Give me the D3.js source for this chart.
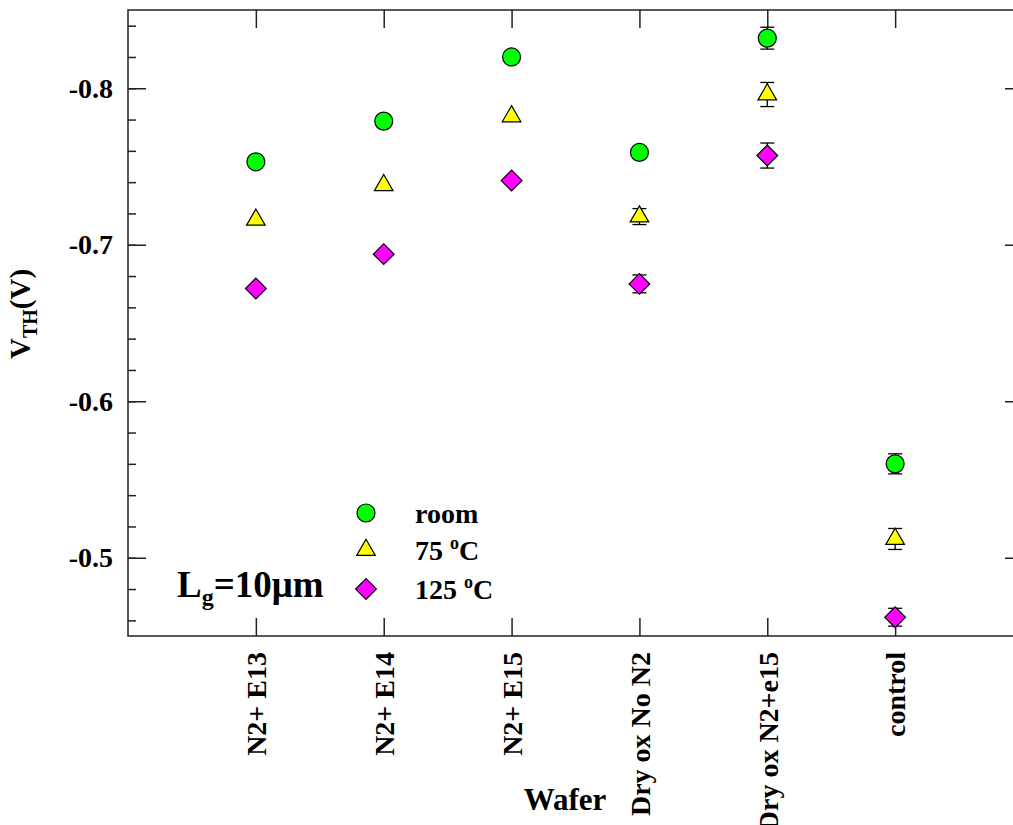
<!DOCTYPE html>
<html>
<head>
<meta charset="utf-8">
<script src="https://cdn.jsdelivr.net/npm/d3@7"></script>
<style>
  body { margin: 0; background: #fff; }
  svg { display: block; }
  text { font-family: "Liberation Serif", "Times New Roman", serif; font-weight: bold; fill: #000; }
</style>
</head>
<body>
<div id="chart"></div>
<script>
const width = 1013;
const height = 825;

// data
const wafers = ["N2+ E13", "N2+ E14", "N2+ E15", "Dry ox No N2", "Dry ox N2+e15", "control"];
const roomVals = [-0.753, -0.779, -0.820, -0.759, -0.832, -0.560];
const roomErr = [0, 0, 0, 0, 0.007, 0.0064];
const t75Vals = [-0.716, -0.738, -0.782, -0.718, -0.796, -0.512];
const t75Err = [0, 0, 0, 0.0051, 0.0077, 0.0067];
const t125Vals = [-0.672, -0.694, -0.741, -0.675, -0.757, -0.462];
const t125Err = [0, 0, 0, 0.0057, 0.008, 0.0057];
const yMajor = [-0.8, -0.7, -0.6, -0.5];
const yMinor = d3.range(-0.84, -0.449, 0.02);

const plotLeft = 128, plotRight = 1023, plotTop = 10, plotBottom = 636;

const x = d3.scaleLinear().domain([0, 7]).range([plotLeft, plotRight]);
const y = d3.scaleLinear().domain([-0.45, -0.85]).range([plotBottom, plotTop]);

const svg = d3.select("#chart").append("svg")
    .attr("width", width)
    .attr("height", height);

// frame
svg.append("rect")
    .attr("x", plotLeft).attr("y", plotTop)
    .attr("width", plotRight - plotLeft).attr("height", plotBottom - plotTop)
    .attr("fill", "none").attr("stroke", "#222").attr("stroke-width", 1.5);

function styleAxis(g) {
    g.select(".domain").remove();
    g.selectAll(".tick line").attr("stroke", "#222").attr("stroke-width", 1.5);
    g.selectAll(".tick text").style("font-size", "28px").attr("fill", "#000").attr("font-family", null);
}

// y axes
svg.append("g").attr("transform", `translate(${plotLeft},0)`)
    .call(d3.axisLeft(y).tickValues(yMajor).tickSize(-18).tickPadding(15).tickFormat(d => d.toFixed(1)))
    .call(styleAxis);

svg.append("g").attr("transform", `translate(${plotLeft},0)`)
    .call(d3.axisLeft(y).tickValues(yMinor).tickSize(-8).tickFormat(""))
    .call(styleAxis);

svg.append("g").attr("transform", `translate(${plotRight},0)`)
    .call(d3.axisRight(y).tickValues(yMajor).tickSize(-18).tickFormat(""))
    .call(styleAxis);

svg.append("g").attr("transform", `translate(${plotRight},0)`)
    .call(d3.axisRight(y).tickValues(yMinor).tickSize(-8).tickFormat(""))
    .call(styleAxis);

// x axes
const xTicks = wafers.map((d, i) => i + 1);

svg.append("g").attr("transform", `translate(0,${plotBottom})`)
    .call(d3.axisBottom(x).tickValues(xTicks).tickSize(-18).tickFormat(i => wafers[i - 1]))
    .call(styleAxis)
    .call(g => g.selectAll(".tick text")
        .attr("transform", "rotate(-90)")
        .attr("x", -16).attr("y", 0).attr("dy", "0.35em")
        .attr("text-anchor", "end"));

svg.append("g").attr("transform", `translate(0,${plotTop})`)
    .call(d3.axisTop(x).tickValues(xTicks).tickSize(-18).tickFormat(""))
    .call(styleAxis);

// axis titles
const yTitle = svg.append("text")
    .attr("transform", "translate(30,314) rotate(-90)")
    .attr("text-anchor", "middle")
    .style("font-size", "29px");
yTitle.append("tspan").text("V");
yTitle.append("tspan").attr("dy", 7).style("font-size", "20px").text("TH");
yTitle.append("tspan").attr("dy", -7).text("(V)");

svg.append("text")
    .attr("x", 565).attr("y", 810)
    .attr("text-anchor", "middle")
    .style("font-size", "31px")
    .text("Wafer");

// series
const series = [
    { name: "room", vals: roomVals, err: roomErr, fill: "#00ff00", sym: d3.symbolCircle, size: 254, rot: 0 },
    { name: "75", vals: t75Vals, err: t75Err, fill: "#ffff00", sym: d3.symbolTriangle, size: 150, rot: 0 },
    { name: "125", vals: t125Vals, err: t125Err, fill: "#ff00ff", sym: d3.symbolSquare, size: 215, rot: 45 }
];

series.forEach(s => {
    const pts = s.vals.map((v, i) => ({ x: i + 1, v: v, e: s.err[i] }));
    const g = svg.append("g");

    const eb = g.selectAll(".err").data(pts.filter(p => p.e > 0)).join("g")
        .attr("stroke", "#000").attr("stroke-width", 1.3);
    eb.append("line")
        .attr("x1", d => x(d.x)).attr("x2", d => x(d.x))
        .attr("y1", d => y(d.v - d.e)).attr("y2", d => y(d.v + d.e));
    eb.append("line")
        .attr("x1", d => x(d.x) - 7).attr("x2", d => x(d.x) + 7)
        .attr("y1", d => y(d.v - d.e)).attr("y2", d => y(d.v - d.e));
    eb.append("line")
        .attr("x1", d => x(d.x) - 7).attr("x2", d => x(d.x) + 7)
        .attr("y1", d => y(d.v + d.e)).attr("y2", d => y(d.v + d.e));

    g.selectAll("path.pt").data(pts).join("path")
        .attr("class", "pt")
        .attr("d", d3.symbol(s.sym, s.size))
        .attr("transform", d => `translate(${x(d.x)},${y(d.v)}) rotate(${s.rot})`)
        .attr("fill", s.fill)
        .attr("stroke", "#000")
        .attr("stroke-width", 1.2);
});

// legend
const legendY = [513, 550, 589];
const legendText = [["room", ""], ["75 ", "C"], ["125 ", "C"]];
series.forEach((s, i) => {
    svg.append("path")
        .attr("d", d3.symbol(s.sym, s.size)())
        .attr("transform", `translate(366,${legendY[i]}) rotate(${s.rot})`)
        .attr("fill", s.fill).attr("stroke", "#000").attr("stroke-width", 1.2);
    const t = svg.append("text")
        .attr("x", 415).attr("y", legendY[i] + 10)
        .style("font-size", "28px");
    t.append("tspan").text(legendText[i][0]);
    if (legendText[i][1]) {
        t.append("tspan").attr("dy", -11).style("font-size", "18px").text("o");
        t.append("tspan").attr("dy", 11).text(legendText[i][1]);
    }
});

// gate length note
const lg = svg.append("text")
    .attr("x", 177).attr("y", 597)
    .style("font-size", "37px");
lg.append("tspan").text("L");
lg.append("tspan").attr("dy", 8).style("font-size", "24px").text("g");
lg.append("tspan").attr("dy", -8).text("=10μm");
</script>
</body>
</html>
